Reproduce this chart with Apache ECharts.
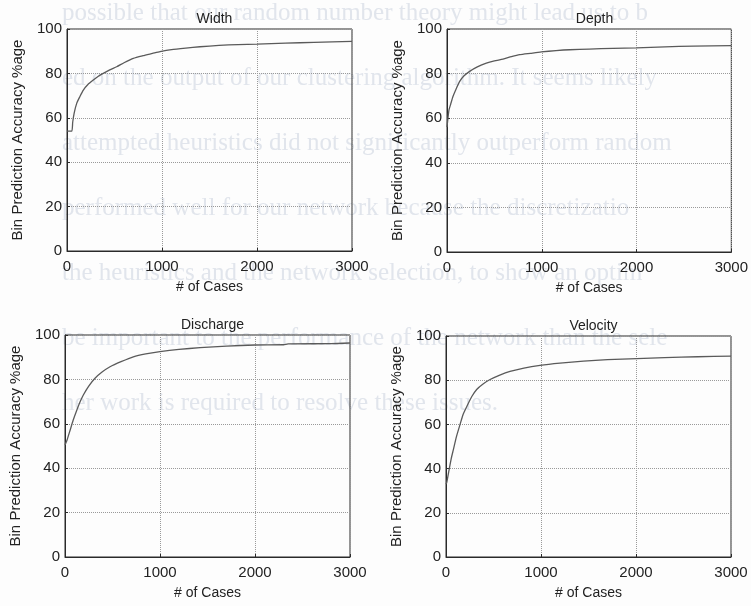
<!DOCTYPE html>
<html>
<head>
<meta charset="UTF-8">
<title>Bin Prediction Accuracy</title>
<script src="https://cdn.jsdelivr.net/npm/echarts@6/dist/echarts.min.js"></script>
<style>
  html, body { margin: 0; padding: 0; background: #fdfdfd; }
  #chart { width: 751px; height: 606px; }
</style>
</head>
<body>
<div id="chart"></div>
<script>
// panel titles, axis ticks
const panelTitles = ['Width', 'Depth', 'Discharge', 'Velocity'];
const xTicks = [0, 1000, 2000, 3000];
const yTicks = [0, 20, 40, 60, 80, 100];

// curves: # of cases -> accuracy %
const widthCases = [0, 50, 60, 75, 102, 135, 172, 220, 277, 330, 382, 450, 523, 600, 698, 800, 900, 979, 1100, 1250, 1400, 1600, 1800, 2000, 2300, 2600, 3000];
const widthAcc   = [54, 54, 58, 62, 66.5, 69.5, 72.5, 75, 77, 78.7, 80, 81.6, 83, 84.8, 86.8, 88, 89, 89.8, 90.7, 91.4, 92, 92.6, 93, 93.2, 93.6, 94, 94.4];

const depthCases = [0, 10, 21, 40, 63, 95, 134, 180, 239, 320, 415, 500, 591, 680, 767, 880, 995, 1150, 1294, 1500, 1750, 1998, 2300, 2600, 3000];
const depthAcc   = [56, 60, 63.7, 66.5, 69.7, 73, 76.5, 79, 81, 83, 84.7, 85.7, 86.5, 87.6, 88.5, 89.1, 89.7, 90.3, 90.7, 91, 91.3, 91.5, 92, 92.3, 92.5];

const dischargeCases = [0, 20, 53, 85, 123, 160, 193, 250, 316, 390, 474, 590, 719, 850, 1000, 1200, 1421, 1700, 2000, 2300, 2350, 2800, 3000];
const dischargeAcc   = [50.5, 52.5, 57, 61.5, 66, 70, 73, 77, 80.5, 83.3, 85.7, 88, 90.2, 91.5, 92.5, 93.5, 94.3, 95, 95.5, 95.6, 96, 96.1, 96.4];

const velocityCases = [0, 7, 20, 35, 55, 77, 110, 148, 180, 218, 270, 323, 390, 464, 560, 674, 820, 990, 1200, 1447, 1700, 2009, 2300, 2650, 3000];
const velocityAcc   = [33, 33.5, 36.5, 40, 44.5, 48.5, 54.5, 60, 64.5, 68, 72.5, 75.8, 78.3, 80.3, 82.2, 84, 85.5, 86.7, 87.7, 88.6, 89.3, 89.8, 90.2, 90.6, 90.9];

// faint text showing through the scanned page
const bleedLines = [
  'possible that our random number theory might lead us to b',
  'ed on the output of our clustering algorithm. It seems likely',
  'attempted heuristics did not significantly outperform random',
  'performed well for our network because the discretizatio',
  'the heuristics and the network selection, to show an optim',
  'be important to the performance of the network than the sele',
  'her work is required to resolve these issues.'
];

const curves = [
  [widthCases, widthAcc],
  [depthCases, depthAcc],
  [dischargeCases, dischargeAcc],
  [velocityCases, velocityAcc]
];

// plot boxes in pixels: left, top, width, height
const boxes = [
  [67, 29, 285, 222],
  [447, 29, 285, 223],
  [65, 335, 285, 222],
  [446, 336, 285, 221]
];

const FONT = '"Liberation Sans", Arial, sans-serif';
const chart = echarts.init(document.getElementById('chart'));

const grids = [], xAxes = [], yAxes = [], series = [], titles = [];
boxes.forEach((b, i) => {
  grids.push({
    left: b[0], top: b[1], width: b[2], height: b[3],
    show: true, borderColor: '#2a2a2a', borderWidth: 1, backgroundColor: 'transparent'
  });
  titles.push({
    text: panelTitles[i],
    left: b[0] + b[2] / 2, top: b[1] - 22, textAlign: 'center',
    textStyle: { fontFamily: FONT, fontSize: 14, fontWeight: 'normal', color: '#222' }
  });
  xAxes.push({
    gridIndex: i, type: 'value', min: xTicks[0], max: xTicks[xTicks.length - 1], interval: 1000,
    name: '# of Cases', nameLocation: 'middle', nameGap: 29,
    nameTextStyle: { fontFamily: FONT, fontSize: 14, color: '#222' },
    axisLine: { show: true, lineStyle: { color: '#2a2a2a', width: 1 } },
    axisTick: { show: true, inside: true, length: 3, lineStyle: { color: '#2a2a2a' } },
    axisLabel: { fontFamily: FONT, fontSize: 15, color: '#222', margin: 8, formatter: v => String(v) },
    splitLine: { show: true, lineStyle: { type: 'dotted', color: '#9a9a9a', width: 1 } }
  });
  yAxes.push({
    gridIndex: i, type: 'value', min: yTicks[0], max: yTicks[yTicks.length - 1], interval: 20,
    name: 'Bin Prediction Accuracy %age', nameLocation: 'middle', nameGap: 42,
    nameTextStyle: { fontFamily: FONT, fontSize: 15, color: '#222' },
    axisLine: { show: true, lineStyle: { color: '#2a2a2a', width: 1 } },
    axisTick: { show: true, inside: true, length: 3, lineStyle: { color: '#2a2a2a' } },
    axisLabel: { fontFamily: FONT, fontSize: 15, color: '#222', margin: 5 },
    splitLine: { show: true, lineStyle: { type: 'dotted', color: '#9a9a9a', width: 1 } }
  });
  const xs = curves[i][0], ys = curves[i][1];
  series.push({
    type: 'line', xAxisIndex: i, yAxisIndex: i,
    data: xs.map((x, k) => [x, ys[k]]),
    showSymbol: false, smooth: 0.2,
    lineStyle: { color: '#5a5a5a', width: 1.3 },
    z: 3
  });
});

const bleed = bleedLines.map((t, k) => ({
  type: 'text', left: 62, top: 15 + k * 65 - 14, z: -10, silent: true,
  style: { text: t, font: '25px "Liberation Serif", serif', fill: '#e1e5ec' }
}));

chart.setOption({
  backgroundColor: '#fdfdfd',
  animation: false,
  title: titles,
  graphic: bleed,
  grid: grids,
  xAxis: xAxes,
  yAxis: yAxes,
  series: series
});
</script>
</body>
</html>
